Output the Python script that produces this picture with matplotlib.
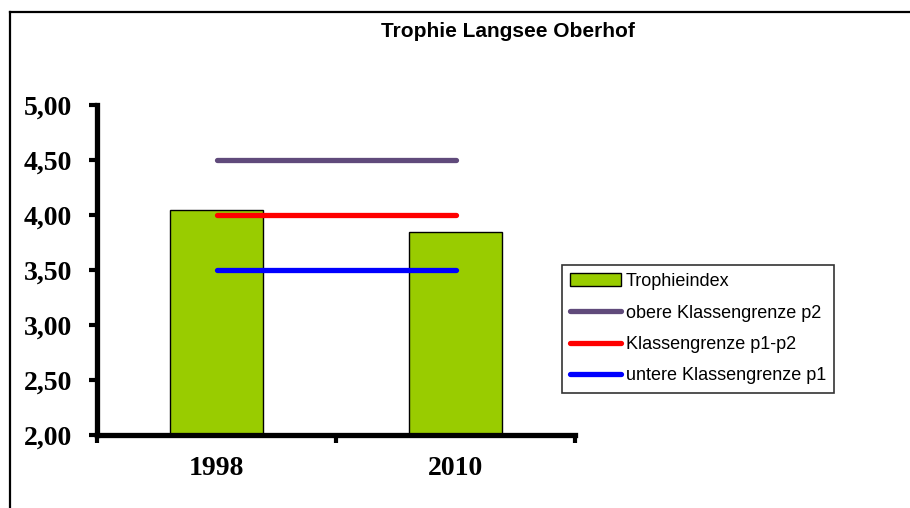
import numpy as np
import matplotlib.pyplot as plt
from matplotlib.lines import Line2D

years = ['1998', '2010']
trophieindex = [4.05, 3.85]
obere_grenze = [4.50, 4.50]
mittlere_grenze = [4.00, 4.00]
untere_grenze = [3.50, 3.50]
yticks = [2.0, 2.5, 3.0, 3.5, 4.0, 4.5, 5.0]

fig = plt.figure(figsize=(9.1, 5.08), dpi=100)
ax = fig.add_axes([0.1066, 0.1437, 0.5253, 0.6496])

x = np.arange(len(years))
ax.bar(x, trophieindex, width=0.39, color='#99CC00', edgecolor='black',
       linewidth=1.0, label='Trophieindex', zorder=2)
ax.plot(x, obere_grenze, color='#604A7B', lw=3.8, solid_capstyle='round',
        label='obere Klassengrenze p2', zorder=3)
ax.plot(x, mittlere_grenze, color='#FF0000', lw=3.8, solid_capstyle='round',
        label='Klassengrenze p1-p2', zorder=3)
ax.plot(x, untere_grenze, color='#0000FF', lw=3.8, solid_capstyle='round',
        label='untere Klassengrenze p1', zorder=3)

ax.set_xlim(-0.5, 1.5)
ax.set_ylim(2.0, 5.0)

for s in ['top', 'right']:
    ax.spines[s].set_visible(False)
for s in ['left', 'bottom']:
    ax.spines[s].set_linewidth(3.8)

ax.set_yticks(yticks)
ax.set_yticklabels([f'{v:.2f}'.replace('.', ',') for v in yticks],
                   fontfamily='Liberation Serif', fontweight='bold', fontsize=20)
ax.tick_params(axis='y', direction='out', length=6, width=3, pad=12)

ax.set_xticks([-0.5, 0.5, 1.5])
ax.set_xticklabels([])
ax.set_xticks(x, minor=True)
ax.set_xticklabels(years, minor=True, fontfamily='Liberation Serif',
                   fontweight='bold', fontsize=20)
ax.tick_params(axis='x', which='major', direction='out', length=6, width=3)
ax.tick_params(axis='x', which='minor', length=0, pad=15)

fig.text(0.558, 0.938, 'Trophie Langsee Oberhof', ha='center', va='center',
         fontfamily='Liberation Sans', fontweight='bold', fontsize=15)

handles, labels = ax.get_legend_handles_labels()
order = [3, 0, 1, 2]
leg = ax.legend([handles[i] for i in order], [labels[i] for i in order],
                loc='upper left', bbox_to_anchor=(562 / 910, 1 - 265 / 508),
                bbox_transform=fig.transFigure, frameon=True,
                fancybox=False, edgecolor='black',
                prop={'family': 'Liberation Sans', 'size': 13},
                handlelength=2.8, handletextpad=0.3, borderpad=0.45,
                labelspacing=0.8, borderaxespad=0)
leg.get_frame().set_linewidth(1.2)

# outer chart frame (only left and top visible)
fig.add_artist(Line2D([10 / 910, 1.0], [1 - 12 / 508, 1 - 12 / 508],
                      transform=fig.transFigure, color='black', lw=1.6))
fig.add_artist(Line2D([10 / 910, 10 / 910], [0, 1 - 12 / 508],
                      transform=fig.transFigure, color='black', lw=1.6))

fig.savefig('out.png', dpi=100)
